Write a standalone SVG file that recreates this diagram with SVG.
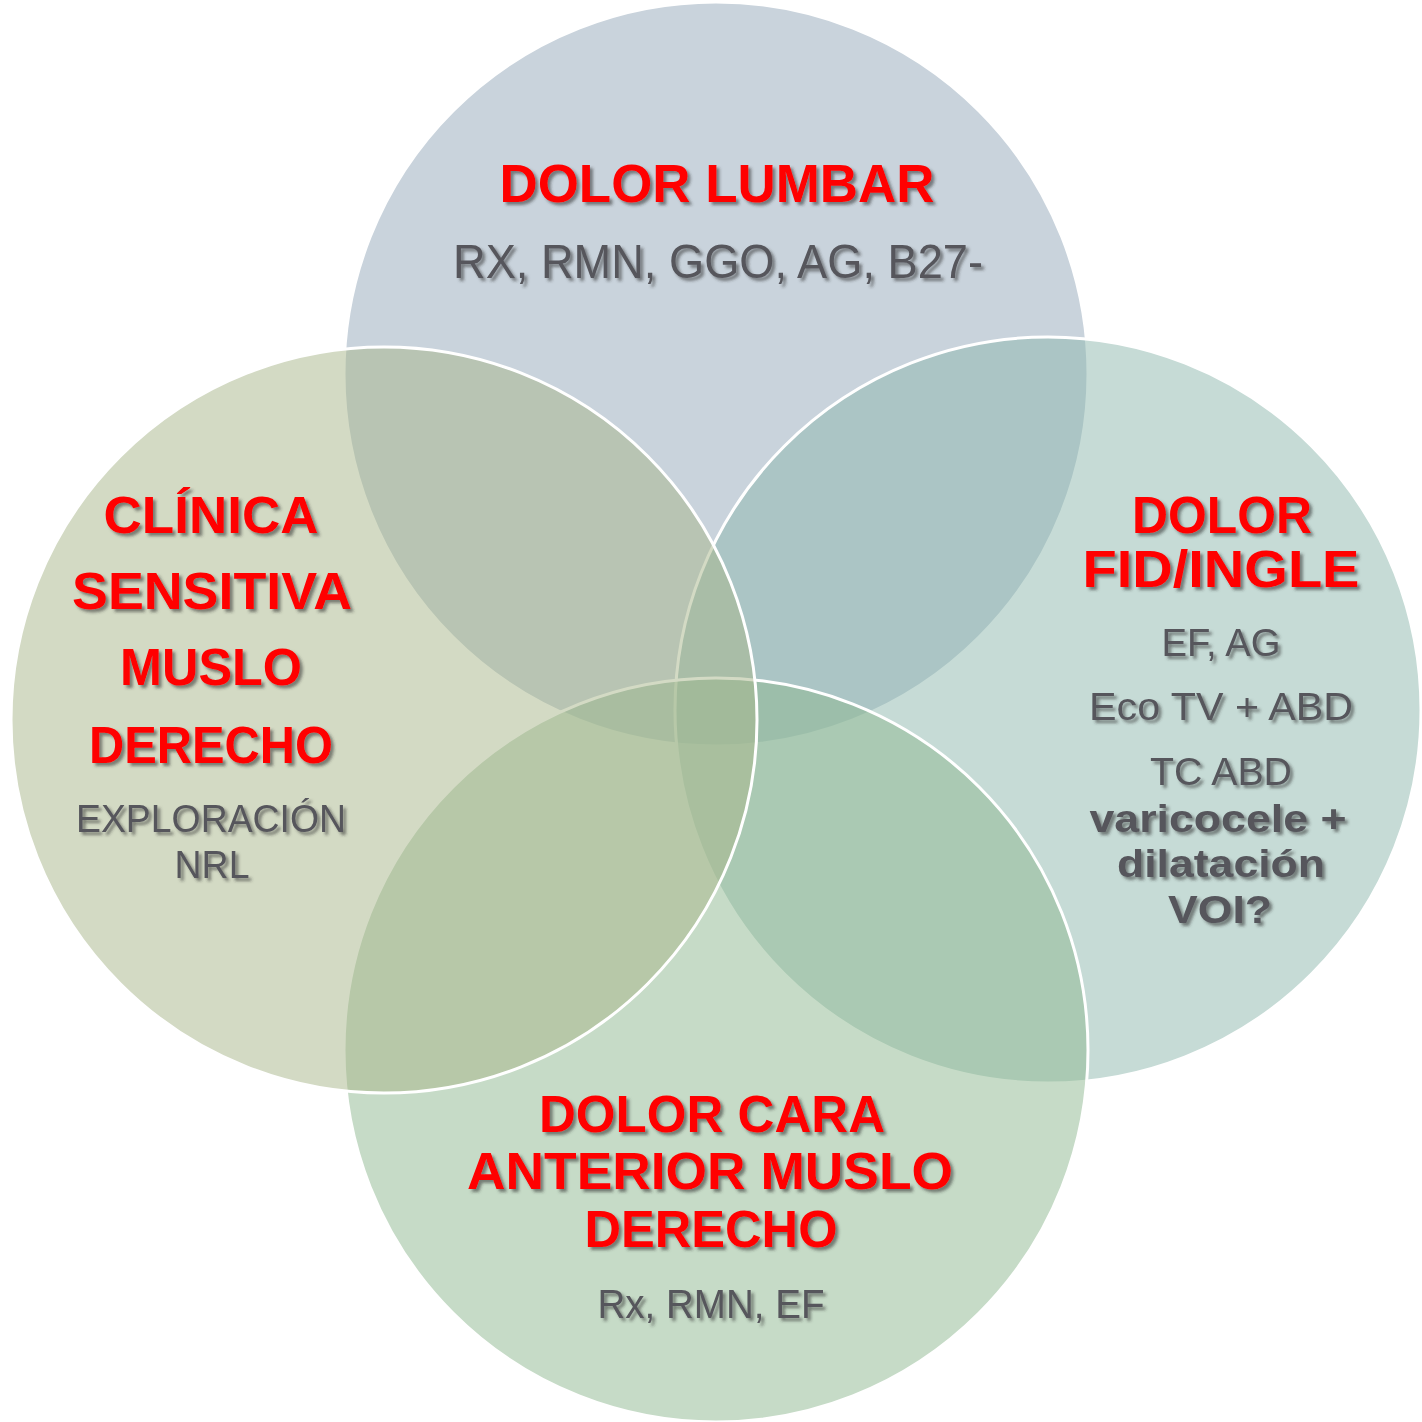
<svg xmlns="http://www.w3.org/2000/svg" width="1422" height="1422" viewBox="0 0 1422 1422">
<defs>
<filter id="sh" x="-10%" y="-30%" width="130%" height="170%">
<feDropShadow dx="3" dy="3" stdDeviation="1.5" flood-color="#333333" flood-opacity="0.55"/>
</filter>
<style>
.c{stroke:#ffffff;stroke-width:3;fill-opacity:0.5}
.t{font-family:"Liberation Sans",Arial,sans-serif;font-weight:bold;fill:#ff0000;text-anchor:middle;filter:url(#sh)}
.g{font-family:"Liberation Sans",Arial,sans-serif;fill:#56565c;text-anchor:middle;filter:url(#sh)}
.gb{font-family:"Liberation Sans",Arial,sans-serif;font-weight:bold;fill:#56565c;text-anchor:middle;filter:url(#sh)}
</style>
</defs>
<rect width="1422" height="1422" fill="#ffffff"/>
<g id="circles">
<circle id="c-top" class="c" cx="716" cy="374" r="372" fill="#93a7b9"/>
<circle id="c-right" class="c" cx="1048" cy="710" r="373" fill="#8db7ad"/>
<circle id="c-bottom" class="c" cx="716" cy="1050" r="372" fill="#8db78f"/>
<circle id="c-left" class="c" cx="384" cy="720" r="373" fill="#a7b589"/>
</g>
<g id="node-top">
<text class="t" x="717" y="202" font-size="54" textLength="435" lengthAdjust="spacingAndGlyphs">DOLOR LUMBAR</text>
<text class="g" x="718" y="278" font-size="48" textLength="530" lengthAdjust="spacingAndGlyphs">RX, RMN, GGO, AG, B27-</text>
</g>
<g id="node-left">
<text class="t" x="211" y="533" font-size="51" textLength="215" lengthAdjust="spacingAndGlyphs">CLÍNICA</text>
<text class="t" x="212" y="609" font-size="51" textLength="280" lengthAdjust="spacingAndGlyphs">SENSITIVA</text>
<text class="t" x="211" y="685" font-size="51" textLength="182" lengthAdjust="spacingAndGlyphs">MUSLO</text>
<text class="t" x="211" y="763" font-size="51" textLength="244" lengthAdjust="spacingAndGlyphs">DERECHO</text>
<text class="g" x="211" y="832" font-size="38" textLength="270" lengthAdjust="spacingAndGlyphs">EXPLORACIÓN</text>
<text class="g" x="212" y="878" font-size="38" textLength="75" lengthAdjust="spacingAndGlyphs">NRL</text>
</g>
<g id="node-right">
<text class="t" x="1222" y="533" font-size="51" textLength="180" lengthAdjust="spacingAndGlyphs">DOLOR</text>
<text class="t" x="1221" y="587" font-size="51" textLength="277" lengthAdjust="spacingAndGlyphs">FID/INGLE</text>
<text class="g" x="1221" y="656" font-size="39" textLength="119" lengthAdjust="spacingAndGlyphs">EF, AG</text>
<text class="g" x="1221" y="720" font-size="39" textLength="264" lengthAdjust="spacingAndGlyphs">Eco TV + ABD</text>
<text class="g" x="1221" y="785" font-size="39" textLength="142" lengthAdjust="spacingAndGlyphs">TC ABD</text>
<text class="gb" x="1218" y="832" font-size="39" textLength="257" lengthAdjust="spacingAndGlyphs">varicocele +</text>
<text class="gb" x="1221" y="877" font-size="39" textLength="208" lengthAdjust="spacingAndGlyphs">dilatación</text>
<text class="gb" x="1220" y="923" font-size="39" textLength="104" lengthAdjust="spacingAndGlyphs">VOI?</text>
</g>
<g id="node-bottom">
<text class="t" x="712" y="1132" font-size="52" textLength="346" lengthAdjust="spacingAndGlyphs">DOLOR CARA</text>
<text class="t" x="710" y="1189" font-size="52" textLength="486" lengthAdjust="spacingAndGlyphs">ANTERIOR MUSLO</text>
<text class="t" x="711" y="1247" font-size="52" textLength="253" lengthAdjust="spacingAndGlyphs">DERECHO</text>
<text class="g" x="711" y="1318" font-size="40" textLength="227" lengthAdjust="spacingAndGlyphs">Rx, RMN, EF</text>
</g>
<g id="connectors"/>
</svg>
